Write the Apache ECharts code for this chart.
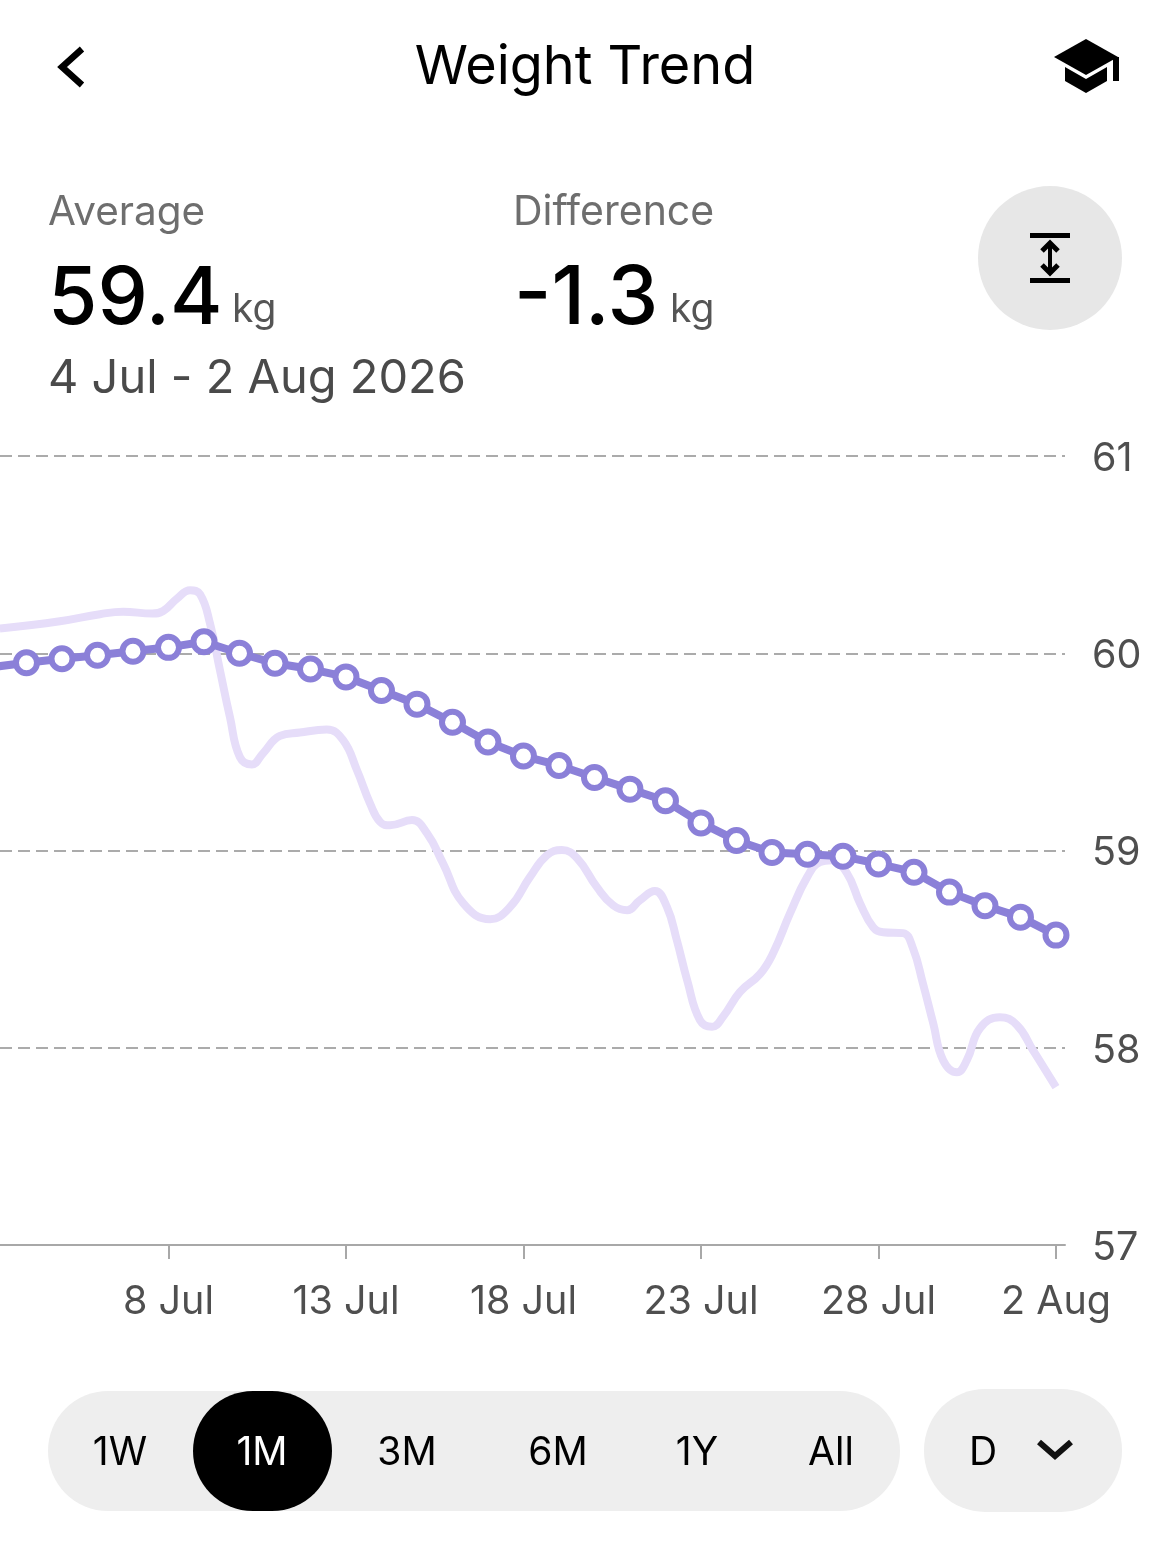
<!DOCTYPE html>
<html>
<head>
<meta charset="utf-8">
<style>html,body{margin:0;padding:0;background:#fff}#c{width:1170px;height:1544px}</style>
<script src="https://cdn.jsdelivr.net/npm/echarts@6/dist/echarts.min.js"></script>
</head>
<body>
<div id="c"></div>
<script>
// Day numbers count from 4 Jul (day 0); 3 Jul (day -1) runs off the left edge.
const trendDays = [-1,0,1,2,3,4,5,6,7,8,9,10,11,12,13,14,15,16,17,18,19,20,21,22,23,24,25,26,27,28,29];
const trendWeights = [59.929,59.952,59.972,59.990,60.010,60.030,60.058,60.000,59.949,59.920,59.880,59.811,59.742,59.650,59.550,59.479,59.431,59.370,59.311,59.252,59.140,59.051,58.990,58.981,58.971,58.932,58.890,58.789,58.720,58.662,58.571];
const curveDays = [-0.75,0.94,2.07,2.72,3.54,3.85,4.24,4.61,4.89,5.17,5.45,5.73,6.01,6.35,6.66,7.14,7.70,8.46,8.92,9.31,9.68,9.96,10.24,10.86,11.28,11.73,12.30,13.06,13.62,14.18,14.66,15.08,15.51,16.07,16.52,16.92,17.28,17.70,18.04,18.32,18.61,18.97,19.31,19.62,20.10,20.66,21.03,21.51,21.99,22.35,22.69,23.11,23.48,23.85,24.13,24.69,24.97,25.25,25.54,25.82,26.21,26.49,26.86,27.42,27.90,28.35,29.00];
const curveWeights = [60.125,60.162,60.198,60.211,60.201,60.214,60.277,60.319,60.299,60.151,59.914,59.677,59.474,59.436,59.492,59.581,59.598,59.613,59.559,59.407,59.238,59.145,59.128,59.154,59.088,58.936,58.733,58.652,58.713,58.865,58.976,59.002,58.961,58.814,58.723,58.697,58.748,58.795,58.714,58.545,58.343,58.140,58.106,58.157,58.283,58.373,58.479,58.682,58.865,58.941,58.951,58.885,58.733,58.611,58.586,58.581,58.505,58.327,58.125,57.937,57.876,57.937,58.099,58.155,58.115,57.988,57.800];
const tickDays = [4,9,14,19,24,29];
const tickLabels = ["8 Jul","13 Jul","18 Jul","23 Jul","28 Jul","2 Aug"];
const rangeLabels = ["1W","1M","3M","6M","1Y","All"];
const FONT = 'Inter';

const zip = (xs, ys) => xs.map((x, i) => [x, ys[i]]);
const t = (text, x, y, size, fill, align, weight) => ({
  type: 'text', silent: true,
  style: { text, x, y, fill, align: align || 'left', verticalAlign: 'middle', font: (weight||400)+' '+size+'px '+FONT }
});
const poly = (points, width, color) => ({
  type: 'polyline', silent: true, shape: { points },
  style: { stroke: color || '#000', lineWidth: width, fill: null, lineJoin: 'miter', lineCap: 'butt' }
});
const fillPoly = (points) => ({ type: 'polygon', silent: true, shape: { points }, style: { fill: '#000' } });
const rect = (x, y, width, height, r, fill) => ({ type: 'rect', silent: true, shape: { x, y, width, height, r }, style: { fill } });

const rangeX = [120,262,407,558,697,831];
const graphics = [
  poly([[82,49],[62,67],[82,85]], 6.5),
  t('Weight Trend', 585, 68, 54, '#000', 'center'),
  fillPoly([[1054,57],[1086,39],[1118,57],[1086,75]]),
  fillPoly([[1065,67],[1086,79],[1107,67],[1107,81],[1086,93],[1065,81]]),
  rect(1113,57,6,24,0,'#000'),
  t('Average', 48, 213, 40.5, '#6e6e6e'),
  t('59.4', 48, 300, 80, '#000', 'left', 500),
  t('kg', 232, 310, 39, '#555'),
  t('Difference', 513, 213, 41, '#6e6e6e'),
  t('-1.3', 514, 300, 81, '#000', 'left', 500),
  t('kg', 670, 310, 39, '#555'),
  t('4 Jul - 2 Aug 2026', 48, 379, 47, '#4a4a4a'),
  { type: 'circle', silent: true, shape: { cx: 1050, cy: 258, r: 72 }, style: { fill: '#e7e7e7' } },
  rect(1030,233,40,5,0,'#000'),
  rect(1030,278,40,5,0,'#000'),
  rect(1048,246,4,24,0,'#000'),
  poly([[1042,251],[1050,243],[1058,251]], 5),
  poly([[1042,265],[1050,273],[1058,265]], 5),
  rect(48,1391,852,120,60,'#eeeeee'),
  rect(193,1391,139,120,60,'#000'),
  rect(924,1389,198,123,61,'#eeeeee'),
  ...rangeLabels.map((s, i) => t(s, rangeX[i], 1453, 39, i === 1 ? '#fff' : '#000', 'center')),
  t('D', 983, 1453, 39, '#000', 'center'),
  poly([[1039,1442],[1055,1456],[1071,1442]], 6, '#111')
];

const chart = echarts.init(document.getElementById('c'), null, { renderer: 'canvas', width: 1170, height: 1544 });
chart.setOption({
  animation: false,
  backgroundColor: '#fff',
  grid: { left: 0, top: 456, width: 1065, height: 789, containLabel: false },
  xAxis: {
    type: 'value', min: -0.746, max: 29.254,
    axisLine: { show: true, onZero: false, lineStyle: { color: '#a8a8a8', width: 2 } },
    axisTick: { show: true, customValues: tickDays, length: 14, lineStyle: { color: '#a8a8a8', width: 2 } },
    axisLabel: {
      show: true, customValues: tickDays, margin: 37, color: '#4f4f4f', fontFamily: FONT, fontSize: 39.5,
      formatter: v => tickLabels[tickDays.indexOf(v)]
    },
    splitLine: { show: false }
  },
  yAxis: {
    type: 'value', position: 'right', min: 57, max: 61, interval: 1,
    axisLine: { show: false }, axisTick: { show: false },
    axisLabel: { margin: 27, verticalAlign: 'top', lineHeight: 6, color: '#4f4f4f', fontFamily: FONT, fontSize: 39.5 },
    splitLine: { show: true, showMinLine: false, lineStyle: { color: '#ababab', width: 2, type: [12, 6] } }
  },
  series: [
    {
      type: 'line', data: zip(curveDays, curveWeights), smooth: 0.45, showSymbol: false, symbol: 'none',
      lineStyle: { color: '#e6ddf9', width: 8 }, z: 2
    },
    {
      type: 'line', data: zip(trendDays, trendWeights), smooth: false, symbol: 'circle', symbolSize: 21, showSymbol: true, showAllSymbol: true,
      lineStyle: { color: '#8b80d8', width: 8 },
      itemStyle: { color: '#fff', borderColor: '#8b80d8', borderWidth: 6 }, z: 3
    }
  ],
  graphic: graphics
});
</script>
</body>
</html>
